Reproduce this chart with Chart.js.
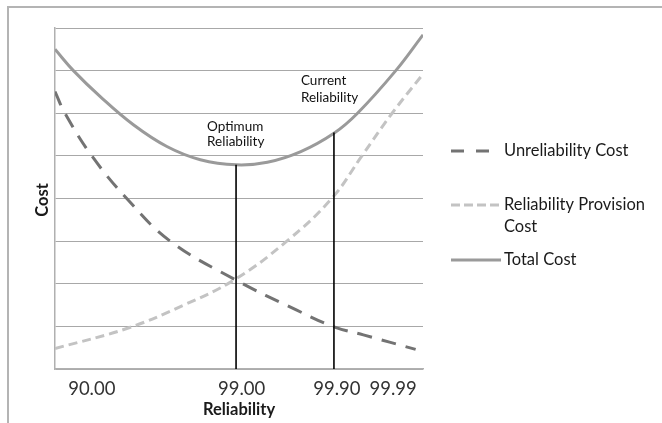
<!DOCTYPE html>
<html><head><meta charset="utf-8">
<script src="https://cdn.jsdelivr.net/npm/chart.js@4/dist/chart.umd.min.js"></script>
<style>
html,body{margin:0;padding:0;background:#fff;}
#frame{position:absolute;left:7px;top:6px;right:0;bottom:0;border-top:2px solid #b4b4b4;border-left:2px solid #b4b4b4;}
#c{position:absolute;left:0;top:0;}
</style></head>
<body>
<div id="frame"></div>
<canvas id="c" width="662" height="423"></canvas>
<script>
// ---- data ----
const xTickLabels = ['90.00', '99.00', '99.90', '99.99'];
const xTickPos = [10.0, 50.7, 76.6, 91.9];

const unrelX = [0, 2.7, 10.0, 19.5, 31.3, 48.9, 65.7, 75.8, 83.8, 98];
const unrelY = [6.51, 6.0, 5.0, 4.0, 3.0, 2.1, 1.38, 0.99, 0.80, 0.46];

const provX = [0, 19.5, 35, 48.9, 63.0, 75.2, 83.4, 91.6, 100];
const provY = [0.48, 0.95, 1.5, 2.1, 3.0, 4.0, 5.0, 6.0, 6.92];

const totalX = [0, 5.0, 12.3, 21.3, 30.4, 39.5, 49.3, 57.7, 66.8, 75.8, 82.2, 92.6, 100];
const totalY = [7.50, 7.0, 6.39, 5.73, 5.22, 4.91, 4.79, 4.85, 5.10, 5.53, 6.0, 7.0, 7.84];

const markerNames = [['Optimum', 'Reliability'], ['Current', 'Reliability']];
const markerX = [49.2, 75.8];
const markerTop = [4.79, 5.55];

const seriesNames = ['Unreliability Cost', 'Reliability Provision Cost', 'Total Cost'];

const pts = (xs, ys) => xs.map((x, i) => ({x, y: ys[i]}));

const FONT = 'Lato, "Open Sans", sans-serif';

const curveDatasets = [
  {label: seriesNames[0], data: pts(unrelX, unrelY), borderColor: '#737373', borderWidth: 3, borderDash: [15, 10]},
  {label: seriesNames[1], data: pts(provX, provY), borderColor: '#c3c3c3', borderWidth: 3, borderDash: [9, 5]},
  {label: seriesNames[2], data: pts(totalX, totalY), borderColor: '#9a9a9a', borderWidth: 3}
].map(d => Object.assign(d, {pointRadius: 0, tension: 0.4, fill: false, order: 2}));

const markerDatasets = markerX.map((x, i) => ({
  label: markerNames[i].join(' '), data: [{x, y: 0}, {x, y: markerTop[i]}],
  borderColor: '#000', borderWidth: 1.6, pointRadius: 0, fill: false, order: 1
}));

// label placement (pixels relative to marker line)
const markerLabelLayout = [{dx: -29, y1: 127, y2: 142}, {dx: -33, y1: 81, y2: 98}];

const overlay = {
  id: 'overlay',
  afterDraw(chart) {
    const ctx = chart.ctx, xs = chart.scales.x, ys = chart.scales.y;
    ctx.save();
    ctx.fillStyle = '#111';
    ctx.font = '13.5px ' + FONT;
    ctx.textAlign = 'left';
    ctx.textBaseline = 'middle';
    markerX.forEach((x, i) => {
      const px = xs.getPixelForValue(x), L = markerLabelLayout[i];
      ctx.fillText(markerNames[i][0], px + L.dx, L.y1);
      ctx.fillText(markerNames[i][1], px + L.dx, L.y2);
    });
    // axis titles
    ctx.font = 'bold 16.5px ' + FONT;
    ctx.fillStyle = '#1a1a1a';
    ctx.textAlign = 'center';
    ctx.fillText('Reliability', (xs.left + xs.right) / 2, 410);
    ctx.save();
    ctx.translate(43, 200);
    ctx.rotate(-Math.PI / 2);
    ctx.fillText('Cost', 0, 0);
    ctx.restore();
    // legend
    const rows = [
      {ds: curveDatasets[0], y: 151, lines: ['Unreliability Cost'], x1: 451, x2: 490, dash: [13, 12]},
      {ds: curveDatasets[1], y: 205, lines: ['Reliability Provision', 'Cost'], x1: 451, x2: 501, dash: [9, 4]},
      {ds: curveDatasets[2], y: 260, lines: ['Total Cost'], x1: 451, x2: 501, dash: []}
    ];
    ctx.textAlign = 'left';
    ctx.font = '16.5px ' + FONT;
    rows.forEach(r => {
      ctx.beginPath();
      ctx.strokeStyle = r.ds.borderColor;
      ctx.lineWidth = 3;
      ctx.setLineDash(r.dash);
      ctx.moveTo(r.x1, r.y); ctx.lineTo(r.x2, r.y);
      ctx.stroke();
      ctx.setLineDash([]);
      ctx.fillStyle = '#1a1a1a';
      r.lines.forEach((t, k) => ctx.fillText(t, 504, r.y + k * 22));
    });
    ctx.restore();
  }
};

new Chart(document.getElementById('c'), {
  type: 'line',
  data: {datasets: [...markerDatasets, ...curveDatasets]},
  options: {
    responsive: false, animation: false,
    layout: {padding: {left: 0, top: 28, right: 239, bottom: 0}},
    plugins: {legend: {display: false}, tooltip: {enabled: false}},
    scales: {
      x: {
        type: 'linear', min: 0, max: 100,
        afterFit: s => { s.height = 54; },
        afterBuildTicks: s => { s.ticks = xTickPos.map(v => ({value: v})); },
        ticks: {
          callback: (v) => { const i = xTickPos.indexOf(v); return i >= 0 ? xTickLabels[i] : ''; },
          font: {family: FONT, size: 18.5}, color: '#333', padding: 9, maxRotation: 0, autoSkip: false
        },
        grid: {display: false, drawTicks: false},
        border: {display: true, color: '#b0b0b0', width: 1.5}
      },
      y: {
        type: 'linear', min: 0, max: 8,
        afterFit: s => { s.width = 55; },
        ticks: {display: false, stepSize: 1},
        grid: {color: '#a8a8a8', lineWidth: 1, drawTicks: false},
        border: {display: true, color: '#b0b0b0', width: 1.5}
      }
    }
  },
  plugins: [overlay]
});
</script>
</body></html>
